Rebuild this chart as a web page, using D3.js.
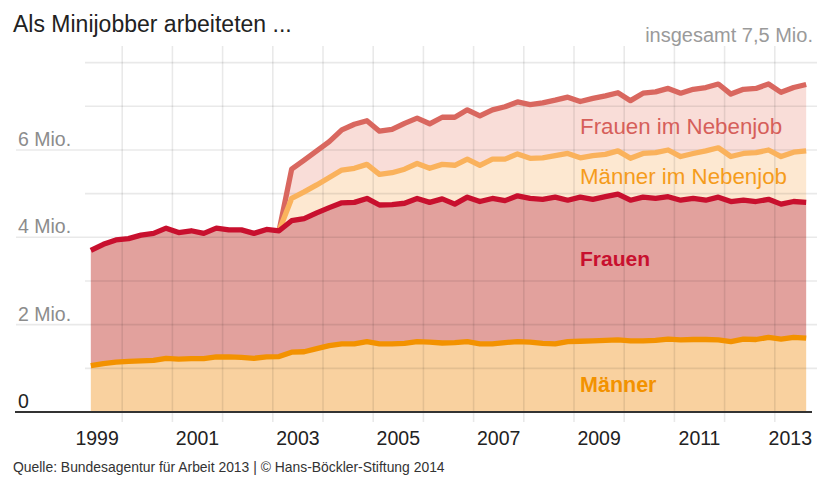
<!DOCTYPE html>
<html><head><meta charset="utf-8">
<script src="https://cdnjs.cloudflare.com/ajax/libs/d3/7.8.5/d3.min.js"></script>
<style>
html,body{margin:0;padding:0;background:#fff;}
svg{display:block;font-family:"Liberation Sans",Arial,sans-serif;}
</style></head>
<body>
<svg id="chart" width="817" height="480"></svg>
<script>
// ---------- data (Mio., quarterly) ----------
const periods = ["1999-06","1999-09","1999-12",
 "2000-03","2000-06","2000-09","2000-12",
 "2001-03","2001-06","2001-09","2001-12",
 "2002-03","2002-06","2002-09","2002-12",
 "2003-03","2003-06","2003-09","2003-12",
 "2004-03","2004-06","2004-09","2004-12",
 "2005-03","2005-06","2005-09","2005-12",
 "2006-03","2006-06","2006-09","2006-12",
 "2007-03","2007-06","2007-09","2007-12",
 "2008-03","2008-06","2008-09","2008-12",
 "2009-03","2009-06","2009-09","2009-12",
 "2010-03","2010-06","2010-09","2010-12",
 "2011-03","2011-06","2011-09","2011-12",
 "2012-03","2012-06","2012-09","2012-12",
 "2013-03","2013-06","2013-09"];

const maenner = [1.06,1.11,1.14,1.16,1.17,1.18,1.23,1.21,1.22,1.22,
 1.26,1.26,1.25,1.23,1.26,1.27,1.37,1.38,1.45,1.52,
 1.56,1.56,1.61,1.56,1.56,1.57,1.61,1.60,1.58,1.59,
 1.61,1.56,1.56,1.59,1.61,1.60,1.57,1.56,1.61,1.62,
 1.63,1.64,1.65,1.63,1.63,1.64,1.67,1.65,1.66,1.66,
 1.65,1.61,1.67,1.66,1.71,1.67,1.71,1.69];

const frauen = [2.64,2.73,2.80,2.81,2.88,2.91,2.98,2.90,2.93,2.87,
 2.95,2.91,2.92,2.86,2.92,2.88,3.01,3.05,3.11,3.16,
 3.23,3.24,3.28,3.18,3.19,3.21,3.28,3.20,3.30,3.17,
 3.31,3.26,3.33,3.25,3.34,3.29,3.30,3.36,3.24,3.30,
 3.24,3.29,3.34,3.22,3.29,3.25,3.26,3.20,3.23,3.19,
 3.27,3.21,3.18,3.16,3.16,3.09,3.11,3.11];

const maennerNebenjob = [null,null,null,null,null,null,null,null,null,null,
 null,null,null,null,null,0,0.51,0.61,0.64,0.69,
 0.75,0.78,0.78,0.70,0.73,0.78,0.80,0.78,0.79,0.89,
 0.87,0.83,0.90,0.95,0.96,0.92,0.95,0.95,1.07,0.90,
 1.00,0.97,0.99,0.96,1.00,1.05,1.07,1.00,1.03,1.13,
 1.13,1.03,1.07,1.12,1.13,1.09,1.13,1.18];

const frauenNebenjob = [null,null,null,null,null,null,null,null,null,null,
 null,null,null,null,null,0,0.67,0.73,0.78,0.82,
 0.92,1.01,1.00,0.99,0.99,1.05,1.04,1.02,1.08,1.10,
 1.13,1.13,1.13,1.20,1.19,1.23,1.26,1.27,1.29,1.29,
 1.31,1.34,1.33,1.32,1.38,1.39,1.41,1.45,1.47,1.45,
 1.46,1.43,1.47,1.47,1.51,1.47,1.48,1.52];

const yearTicks = [2000,2001,2002,2003,2004,2005,2006,2007,2008,2009,2010,2011,2012,2013];
const yearLabels = [1999,2001,2003,2005,2007,2009,2011,2013];
const yMajor = [0,2,4,6];
const yMinor = [1,3,5,7,8];
const yLabelText = {0:"0",2:"2 Mio.",4:"4 Mio.",6:"6 Mio."};

const title = "Als Minijobber arbeiteten ...";
const totalNote = "insgesamt 7,5 Mio.";
const source = "Quelle: Bundesagentur für Arbeit 2013 | © Hans-Böckler-Stiftung 2014";

const seriesNames = ["Männer","Frauen","Männer im Nebenjob","Frauen im Nebenjob"];
const seriesKeys = ["m","f","mn","fn"];

// ---------- styles ----------
const fills = {m:"#f9d19f", f:"#e2a19d", mn:"#fde8d1", fn:"#f9ddd8"};
const strokes = {m:"#f39200", f:"#c8102e", mn:"#fab25c", fn:"#d9675f"};
const labelColors = {m:"#f39200", f:"#c8102e", mn:"#f59c1c", fn:"#d65f5a"};

// ---------- build table ----------
const table = periods.map((p,i)=>{
  const [yy,mm] = p.split("-").map(Number);
  return {t: yy + (mm-1.5)/12, m: maenner[i], f: frauen[i],
          mn: maennerNebenjob[i] ?? 0, fn: frauenNebenjob[i] ?? 0,
          hasNJ: maennerNebenjob[i] !== null};
});

const W = 817, H = 480;
const svg = d3.select("#chart");
const x = d3.scaleLinear().domain([1999,2014]).range([72, 72+15*50.2]);
const y = d3.scaleLinear().domain([0,8]).range([412, 412-8*43.67]);

const stack = d3.stack().keys(seriesKeys);
const layers = stack(table);

// areas
const area = d3.area().x((d,i)=>x(table[i].t)).y0(d=>y(d[0])).y1(d=>y(d[1]));
svg.append("g").selectAll("path").data(layers).join("path")
  .attr("d", area).attr("fill", d=>fills[d.key]);

// grid (on top of fills, translucent)
const grid = svg.append("g").attr("stroke","rgba(0,0,0,0.085)").attr("stroke-width",1.6);
grid.selectAll("line.v").data(yearTicks).join("line").attr("class","v")
  .attr("x1",d=>x(d)).attr("x2",d=>x(d)).attr("y1",46).attr("y2",422);
grid.selectAll("line.mj").data(yMajor.filter(v=>v>0)).join("line").attr("class","mj")
  .attr("x1",16).attr("x2",W).attr("y1",d=>y(d)).attr("y2",d=>y(d));
grid.selectAll("line.mn").data(yMinor).join("line").attr("class","mn")
  .attr("x1",85).attr("x2",W).attr("y1",d=>y(d)).attr("y2",d=>y(d));

// lines (top edge of each layer)
const lineGen = d3.line().x((d,i)=>x(table[i].t)).y(d=>y(d[1]));
const lineOrder = ["fn","mn","f","m"];
lineOrder.forEach(k=>{
  const L = layers.find(l=>l.key===k);
  const gen = (k==="mn"||k==="fn") ? lineGen.defined((d,i)=>table[i].hasNJ) : lineGen.defined(()=>true);
  svg.append("path").attr("d", gen(L)).attr("fill","none")
    .attr("stroke", strokes[k]).attr("stroke-width",5.3).attr("stroke-linejoin","round");
});

// baseline
svg.append("line").attr("x1",15).attr("x2",812).attr("y1",y(0)).attr("y2",y(0))
  .attr("stroke","#333").attr("stroke-width",2);

// y labels
svg.append("g").selectAll("text").data(yMajor).join("text")
  .attr("x",18).attr("y",d=>y(d)-4)
  .attr("font-size",19.5).attr("fill",d=>d===0?"#222":"#8c8c8c")
  .text(d=>yLabelText[d]);

// x labels
const xl = svg.append("g").selectAll("text").data(yearLabels).join("text")
  .attr("y",445).attr("font-size",19.5).attr("fill","#222").attr("text-anchor","middle")
  .text(d=>d);
xl.each(function(d){
  const w = this.getComputedTextLength();
  const cx = Math.min(x(d+0.5), 812 - w/2);
  d3.select(this).attr("x", cx);
});

// title & notes
svg.append("text").attr("x",13).attr("y",32).attr("font-size",23).attr("fill","#222").text(title);
svg.append("text").attr("x",813).attr("y",42).attr("text-anchor","end")
  .attr("font-size",20).attr("fill","#9a9a9a").text(totalNote);
svg.append("text").attr("x",13).attr("y",472).attr("font-size",13.9).attr("fill","#333").text(source);

// series labels
const labelSpec = [
  {k:"fn", name:seriesNames[3], y:134, weight:"normal", size:22.3},
  {k:"mn", name:seriesNames[2], y:184, weight:"normal", size:22.3},
  {k:"f",  name:seriesNames[1], y:266, weight:"bold",   size:21},
  {k:"m",  name:seriesNames[0], y:392, weight:"bold",   size:21.5}
];
svg.append("g").selectAll("text").data(labelSpec).join("text")
  .attr("x", x(2009.12)).attr("y", d=>d.y)
  .attr("font-size", d=>d.size).attr("font-weight", d=>d.weight)
  .attr("fill", d=>labelColors[d.k])
  .text(d=>d.name);
</script>
</body></html>
